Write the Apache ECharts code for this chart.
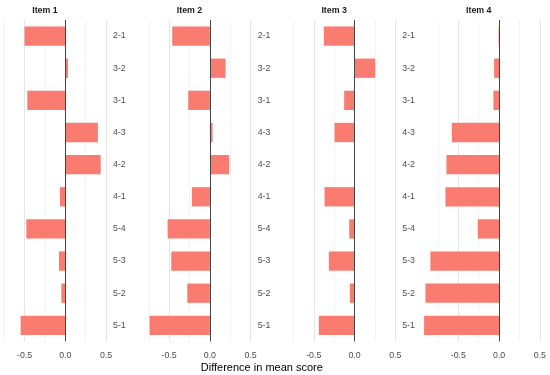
<!DOCTYPE html>
<html>
<head>
<meta charset="utf-8">
<script src="https://cdn.jsdelivr.net/npm/echarts@6/dist/echarts.min.js"></script>
<style>html,body{margin:0;padding:0;background:#fff;}#c{width:550px;height:375px;}</style>
</head>
<body>
<div id="c"></div>
<script>
const categories = ['2-1','3-2','3-1','4-3','4-2','4-1','5-4','5-3','5-2','5-1'];
const panelTitles = ['Item 1','Item 2','Item 3','Item 4'];
const item1 = [-0.50, 0.033, -0.466, 0.40, 0.434, -0.065, -0.478, -0.078, -0.049, -0.548];
const item2 = [-0.462, 0.192, -0.266, 0.033, 0.237, -0.221, -0.519, -0.474, -0.278, -0.74];
const item3 = [-0.376, 0.254, -0.127, -0.245, 0, -0.368, -0.065, -0.315, -0.057, -0.438];
const item4 = [-0.006, -0.061, -0.07, -0.58, -0.646, -0.658, -0.262, -0.843, -0.904, -0.92];
const xAxisTitle = 'Difference in mean score';
const xMin = -1, xMax = 0.5, xInterval = 0.5;

const items = [item1, item2, item3, item4];
const FONT = "'Liberation Sans', Arial, sans-serif";
const pxPerUnit = 81.5;
const zero0 = 65.3, step = 144.6;
const gridTop = 20, gridHeight = 321.4;

const grids = [], xAxes = [], yAxes = [], series = [], graphics = [];
items.forEach((vals, i) => {
  const z = zero0 + step * i;
  const left = z + xMin * pxPerUnit;
  const width = (xMax - xMin) * pxPerUnit;
  grids.push({ left: left, top: gridTop, width: width, height: gridHeight,
    containLabel: false, outerBoundsMode: 'none' });
  xAxes.push({
    type: 'value', gridIndex: i, min: xMin, max: xMax, interval: xInterval,
    axisLine: { show: false }, axisTick: { show: false },
    axisLabel: { showMinLabel: false, color: '#4d4d4d', fontSize: 8.8, fontFamily: FONT, margin: 10,
      formatter: v => v.toFixed(1) },
    splitLine: { show: true, showMinLine: false, lineStyle: { color: '#e6e6e6', width: 1 } },
    minorTick: { show: false, splitNumber: 2 },
    minorSplitLine: { show: true, lineStyle: { color: '#f3f3f3', width: 1 } }
  });
  yAxes.push({
    type: 'category', gridIndex: i, data: categories, inverse: true, position: 'right',
    axisLine: { show: false, onZero: false }, axisTick: { show: false },
    splitLine: { show: false },
    axisLabel: { show: i < 3, color: '#4d4d4d', fontSize: 8.8, fontFamily: FONT, margin: 7 }
  });
  series.push({
    type: 'bar', xAxisIndex: i, yAxisIndex: i, data: vals, barWidth: '60%',
    itemStyle: { color: '#FA7B6F' }, silent: true, animation: false,
    markLine: { silent: true, symbol: 'none', label: { show: false }, animation: false,
      lineStyle: { color: '#444', width: 1, type: 'solid' }, data: [{ xAxis: 0 }] }
  });
  graphics.push({ type: 'text', x: left + width / 2, y: 10.5,
    style: { text: panelTitles[i], fill: '#1a1a1a', font: 'bold 8.8px ' + FONT,
      align: 'center', verticalAlign: 'middle', textAlign: 'center', textVerticalAlign: 'middle' } });
});
const firstLeft = zero0 + xMin * pxPerUnit;
const lastRight = zero0 + step * 3 + xMax * pxPerUnit;
graphics.push({ type: 'text', x: (firstLeft + lastRight) / 2, y: 368,
  style: { text: xAxisTitle, fill: '#000', font: '11px ' + FONT,
    align: 'center', verticalAlign: 'middle', textAlign: 'center', textVerticalAlign: 'middle' } });

const chart = echarts.init(document.getElementById('c'), null, { renderer: 'canvas' });
chart.setOption({
  animation: false,
  backgroundColor: '#fff',
  grid: grids, xAxis: xAxes, yAxis: yAxes, series: series, graphic: graphics
});
</script>
</body>
</html>
